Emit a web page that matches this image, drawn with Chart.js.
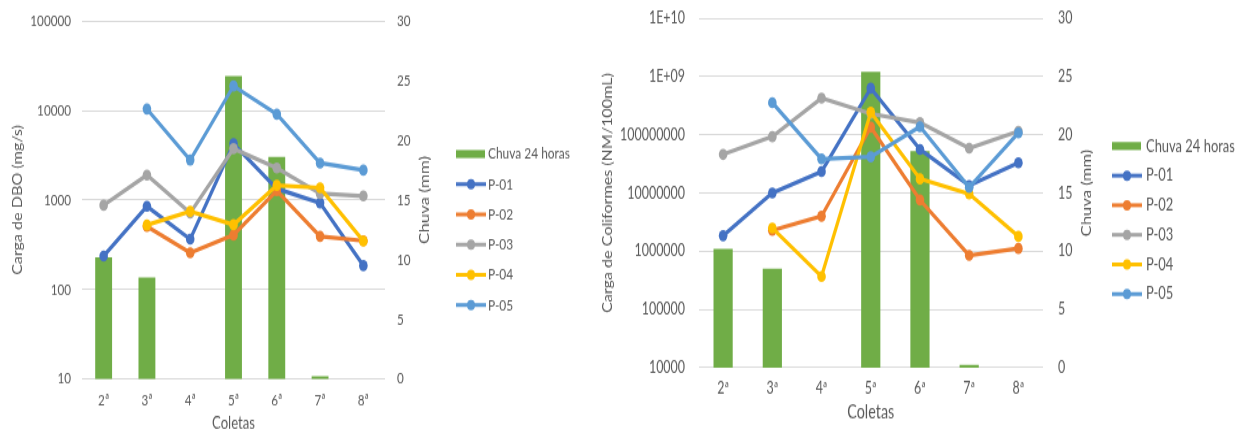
<!DOCTYPE html>
<html>
<head>
<meta charset="utf-8">
<script src="https://cdn.jsdelivr.net/npm/chart.js"></script>
<style>
    html, body { margin: 0; padding: 0; background: #fff; }
    #wrap { position: relative; width: 1247px; height: 434px; overflow: hidden; }
    canvas { position: absolute; top: 0; transform-origin: 0 0; }
    #dboChart { left: 0; }
    #colChart { left: 595px; }
</style>
</head>
<body>
<div id="wrap">
    <canvas id="dboChart"></canvas>
    <canvas id="colChart"></canvas>
</div>
<script>
// categorias e chuva (eixo secundário)
var coletas = ["2ª", "3ª", "4ª", "5ª", "6ª", "7ª", "8ª"];
var chuva = [10.2, 8.5, 0, 25.4, 18.6, 0.25, 0];

// carga de DBO (mg/s)
var dboP01 = [237, 850, 365, 4250, 1340, 930, 185];
var dboP02 = [null, 508, 258, 406, 1270, 393, 351];
var dboP03 = [875, 1900, 716, 3750, 2280, 1180, 1110];
var dboP04 = [null, 526, 748, 530, 1460, 1370, 348];
var dboP05 = [null, 10400, 2800, 18800, 9100, 2590, 2160];

// carga de coliformes (NM/100mL)
var colP01 = [1.85e6, 1.0e7, 2.33e7, 6.3e8, 5.6e7, 1.35e7, 3.3e7];
var colP02 = [null, 2.28e6, 4.0e6, 1.35e8, 7.6e6, 8.5e5, 1.12e6];
var colP03 = [4.6e7, 9.3e7, 4.25e8, 2.3e8, 1.62e8, 5.9e7, 1.15e8];
var colP04 = [null, 2.5e6, 3.7e5, 2.44e8, 1.75e7, 9.7e6, 1.8e6];
var colP05 = [null, 3.57e8, 3.85e7, 4.2e7, 1.38e8, 1.25e7, 1.08e8];

var serieNomes = ["P-01", "P-02", "P-03", "P-04", "P-05"];
var chuvaNome = "Chuva 24 horas";

// ticks
var dboTickValues = [10, 100, 1000, 10000, 100000];
var dboTickLabels = ["10", "100", "1000", "10000", "100000"];
var colTickValues = [1e4, 1e5, 1e6, 1e7, 1e8, 1e9, 1e10];
var colTickLabels = ["10000", "100000", "1000000", "10000000", "100000000", "1E+09", "1E+10"];

var cores = ['#4472C4', '#ED7D31', '#A5A5A5', '#FFC000', '#5B9BD5'];
var corChuva = '#70AD47';
var corTexto = '#595959';
var corGrade = '#D9D9D9';
var fonte = "Lato, 'Open Sans', sans-serif";

// a figura original está esticada na vertical: desenha mais baixo e estica com css
var alturaFig = 434;
var alturaCanvas = 334;
var esticar = alturaFig / alturaCanvas;

var medidor = document.createElement("canvas").getContext("2d");
function fitSize(text, width) {
    medidor.font = "20px " + fonte;
    return 20 * width / medidor.measureText(text).width;
}

var sideLegend = {
    id: 'sideLegend',
    afterDraw: function (chart, args, opts) {
        var ctx = chart.ctx;
        var area = chart.chartArea;
        ctx.save();
        // titulo do eixo secundário (lido de baixo para cima)
        ctx.fillStyle = corTexto;
        ctx.font = opts.titleSize + "px " + fonte;
        ctx.textAlign = "center";
        ctx.textBaseline = "middle";
        ctx.translate(opts.titleX, (area.top + area.bottom) / 2);
        ctx.rotate(-Math.PI / 2);
        ctx.fillText(opts.title, 0, 0);
        ctx.restore();

        ctx.save();
        ctx.font = opts.fontSize + "px " + fonte;
        ctx.textBaseline = "middle";
        ctx.textAlign = "left";
        chart.data.datasets.forEach(function (ds, i) {
            var y = (opts.y + i * opts.gap) / esticar;
            if (ds.type === "line") {
                ctx.strokeStyle = ds.borderColor;
                ctx.lineWidth = 3;
                ctx.beginPath();
                ctx.moveTo(opts.x, y);
                ctx.lineTo(opts.x + 30, y);
                ctx.stroke();
                ctx.fillStyle = ds.borderColor;
                ctx.beginPath();
                ctx.arc(opts.x + 15, y, 4, 0, Math.PI * 2);
                ctx.fill();
            } else {
                ctx.fillStyle = ds.backgroundColor;
                ctx.fillRect(opts.x, y - 4 / esticar, 29, 8 / esticar);
            }
            ctx.fillStyle = corTexto;
            ctx.fillText(ds.label, opts.textX, y);
        });
        ctx.restore();
    }
};

function buildDatasets(series) {
    var sets = [{
        type: "bar",
        label: chuvaNome,
        data: chuva,
        yAxisID: "y2",
        backgroundColor: corChuva,
        categoryPercentage: 1,
        barPercentage: 0.39,
        order: 10
    }];
    for (var i = 0; i < series.length; i++) {
        sets.push({
            type: "line",
            label: serieNomes[i],
            data: series[i],
            yAxisID: "y",
            borderColor: cores[i],
            backgroundColor: cores[i],
            borderWidth: 3.2,
            pointRadius: 4.3,
            pointBorderWidth: 0,
            pointBackgroundColor: cores[i],
            tension: 0,
            order: 5 - i
        });
    }
    return sets;
}

// o padding dos ticks não deve empurrar a área do gráfico
function semPaddingVertical(scale) {
    scale.paddingTop = 0;
    scale.paddingBottom = 0;
}

function makeChart(id, series, cfg) {
    var canvas = document.getElementById(id);
    var h = alturaCanvas;
    canvas.width = cfg.width;
    canvas.height = h;
    canvas.style.transform = "scaleY(" + esticar + ")";
    var ctx = canvas.getContext("2d");

    var tickSize = fitSize(cfg.tickRef, cfg.tickRefWidth);
    var yTitleSize = fitSize(cfg.yTitle, cfg.yTitleLen / esticar);
    var xTitleSize = fitSize("Coletas", cfg.xTitleWidth);
    var bottom = cfg.bottom / esticar;

    cfg.legend.fontSize = fitSize(chuvaNome, cfg.legendWidth);
    cfg.legend.titleSize = fitSize(cfg.legend.title, cfg.y2TitleLen / esticar);

    return new Chart(ctx, {
        type: "bar",
        data: {
            labels: coletas,
            datasets: buildDatasets(series)
        },
        plugins: [sideLegend],
        options: {
            responsive: false,
            animation: false,
            devicePixelRatio: 1,
            layout: { padding: { top: cfg.top / esticar, right: cfg.padRight, left: 0, bottom: 0 } },
            plugins: {
                legend: { display: false },
                tooltip: { enabled: false },
                sideLegend: cfg.legend
            },
            scales: {
                x: {
                    grid: { display: false, drawTicks: false },
                    border: { display: false },
                    ticks: {
                        color: corTexto,
                        font: { family: fonte, size: tickSize },
                        padding: cfg.xTickY / esticar - bottom - tickSize * 0.6
                    },
                    title: {
                        display: true, text: "Coletas", color: corTexto,
                        font: { family: fonte, size: xTitleSize },
                        padding: { top: 0, bottom: Math.max(0, (h - cfg.xTitleY / esticar) - xTitleSize * 0.6) }
                    },
                    afterFit: function (scale) { scale.height = h - bottom; }
                },
                y: {
                    type: "logarithmic",
                    position: "left",
                    min: cfg.tickValues[0],
                    max: cfg.tickValues[cfg.tickValues.length - 1],
                    grid: { color: corGrade, lineWidth: 1, drawTicks: false },
                    border: { display: false },
                    ticks: {
                        color: corTexto,
                        font: { family: fonte, size: tickSize },
                        padding: cfg.yPad,
                        autoSkip: false,
                        callback: function (value, index) { return cfg.tickLabels[index]; }
                    },
                    afterBuildTicks: function (scale) {
                        scale.ticks = cfg.tickValues.map(function (v) { return { value: v }; });
                    },
                    title: {
                        display: true, text: cfg.yTitle, color: corTexto,
                        font: { family: fonte, size: yTitleSize },
                        padding: { top: Math.max(0, cfg.yTitleX - yTitleSize * 0.6), bottom: 0 }
                    },
                    afterFit: function (scale) {
                        scale.width = cfg.yWidth;
                        semPaddingVertical(scale);
                    }
                },
                y2: {
                    type: "linear",
                    position: "right",
                    min: 0,
                    max: 30,
                    grid: { display: false, drawTicks: false },
                    border: { display: false },
                    ticks: { stepSize: 5, color: corTexto, font: { family: fonte, size: tickSize }, padding: cfg.y2Pad },
                    afterFit: function (scale) {
                        scale.width = cfg.y2Width;
                        semPaddingVertical(scale);
                    }
                }
            }
        }
    });
}

makeChart("dboChart", [dboP01, dboP02, dboP03, dboP04, dboP05], {
    width: 595, top: 21, bottom: 379, padRight: 155, yWidth: 82, y2Width: 55,
    tickRef: "100000", tickRefWidth: 40.7,
    xTickY: 400, yPad: 11, y2Pad: 12,
    xTitleWidth: 43, xTitleY: 426,
    yTitle: "Carga de DBO (mg/s)", yTitleLen: 150, yTitleX: 17.8,
    y2TitleLen: 88, legendWidth: 82,
    tickValues: dboTickValues, tickLabels: dboTickLabels,
    legend: { x: 456, textX: 488, y: 154, gap: 30.2, title: "Chuva (mm)", titleX: 425 }
});

makeChart("colChart", [colP01, colP02, colP03, colP04, colP05], {
    width: 652, top: 18.3, bottom: 367.7, padRight: 144, yWidth: 103.5, y2Width: 60,
    tickRef: "100000000", tickRefWidth: 65,
    xTickY: 388, yPad: 13.5, y2Pad: 15,
    xTitleWidth: 47, xTitleY: 413,
    yTitle: "Carga de Coliformes (NM/100mL)", yTitleLen: 240, yTitleX: 12.5,
    y2TitleLen: 87, legendWidth: 89,
    tickValues: colTickValues, tickLabels: colTickLabels,
    legend: { x: 517, textX: 551, y: 146, gap: 29.6, title: "Chuva (mm)", titleX: 492 }
});
</script>
</body>
</html>
